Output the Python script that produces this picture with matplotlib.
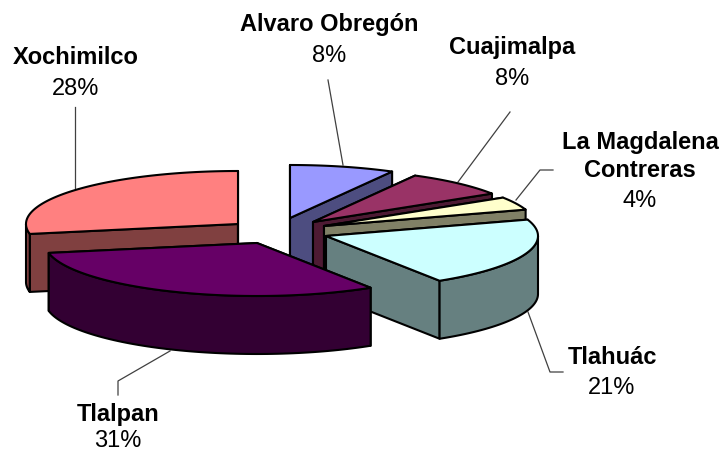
import numpy as np
import matplotlib
matplotlib.use("Agg")
import matplotlib.pyplot as plt
from matplotlib.patches import Polygon

categories = ["Alvaro Obregón", "Cuajimalpa", "La Magdalena\nContreras", "Tlahuác", "Tlalpan", "Xochimilco"]
values = [8, 8, 4, 21, 31, 28]
top_colors = ["#9999FF", "#993366", "#FFFFCC", "#CCFFFF", "#660066", "#FF8080"]
side_colors = ["#4D4D80", "#4D1A33", "#808066", "#668080", "#330033", "#804040"]
apexes = [(290, 218), (313, 222), (324, 226), (326, 236), (257, 243), (238, 224)]
label_pos = [(329, 31), (512, 54), (640, 177), (612, 364), (118, 421), (76, 64)]
pct_pos = [(329, 62), (512, 85), (640, 207), (612, 394), (118, 447), (76, 95)]
leaders = [
    [(343, 165), (328, 80)],
    [(458, 182), (510, 112)],
    [(516, 200), (540, 170), (553, 170)],
    [(528, 312), (550, 372), (563, 372)],
    [(170, 351), (118, 381), (118, 395)],
    [(75, 188), (75, 107)],
]
RX, RY, DEPTH = 212, 53, 58
draw_order = [5, 0, 1, 2, 3, 4]

plt.rcParams["font.family"] = ["Liberation Sans", "DejaVu Sans"]
fig = plt.figure(figsize=(7.26, 4.53), dpi=100)
ax = fig.add_axes([0, 0, 1, 1])
ax.set_xlim(0, 726)
ax.set_ylim(453, 0)
ax.axis("off")

edges = np.cumsum([0] + values) / sum(values) * 2 * np.pi


def rim(apex, t):
    return np.column_stack([apex[0] + RX * np.sin(t), apex[1] - RY * np.cos(t)])


def poly(pts, fc, z):
    ax.add_patch(Polygon(pts, closed=True, facecolor=fc, edgecolor="black",
                         linewidth=1.5, joinstyle="round", zorder=z))


for path in leaders:
    xs, ys = zip(*path)
    ax.plot(xs, ys, color="#404040", lw=0.9, zorder=1)

z = 2
for i in draw_order:
    apex = np.array(apexes[i], float)
    t0, t1 = edges[i], edges[i + 1]
    down = np.array([0, DEPTH])
    for t in (t0, t1):
        p = rim(apex, np.array([t]))[0]
        poly([apex, p, p + down, apex + down], side_colors[i], z)
    z += 1
    a, b = max(t0, np.pi / 2), min(t1, 3 * np.pi / 2)
    if b > a:
        arc = rim(apex, np.linspace(a, b, 80))
        poly(np.vstack([arc, (arc + down)[::-1]]), side_colors[i], z)
    z += 1
    arc = rim(apex, np.linspace(t0, t1, 120))
    poly(np.vstack([apex, arc]), top_colors[i], z)
    z += 1

for i in range(len(categories)):
    ax.text(*label_pos[i], categories[i], ha="center", va="baseline", fontsize=17,
            fontweight="bold", linespacing=1.3, color="black", zorder=50)
    ax.text(*pct_pos[i], f"{values[i]}%", ha="center", va="baseline", fontsize=17,
            color="black", zorder=50)

fig.savefig("out.png", dpi=100)
